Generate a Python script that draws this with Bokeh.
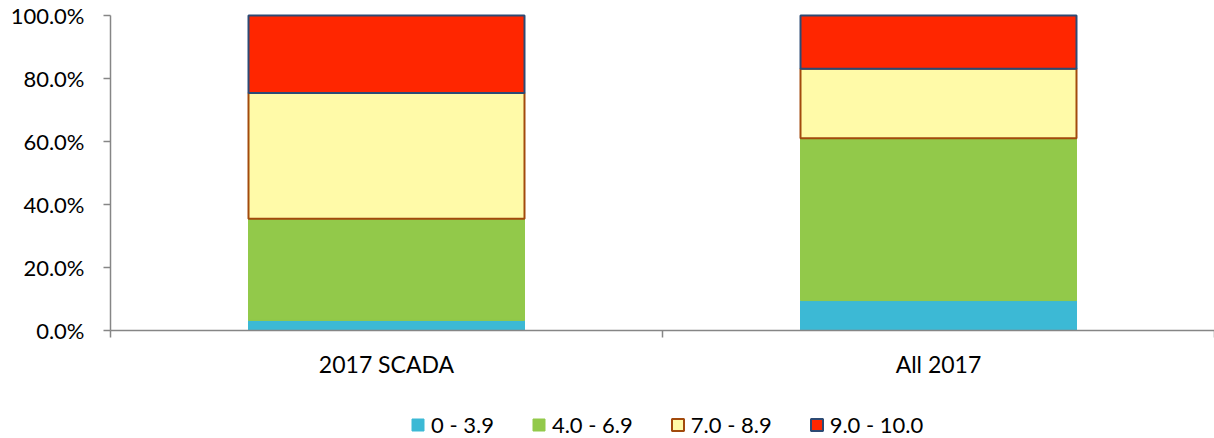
from bokeh.plotting import figure
from bokeh.layouts import column
from bokeh.models import (Range1d, FixedTicker, NumeralTickFormatter, Legend,
                          LegendItem, ColumnDataSource)
from bokeh.embed import file_html
from bokeh.resources import INLINE

# Share of samples per score band for each group
categories = ["2017 SCADA", "All 2017"]
bands = ["0 - 3.9", "4.0 - 6.9", "7.0 - 8.9", "9.0 - 10.0"]
band_0_39 = [0.032, 0.095]
band_40_69 = [0.323, 0.515]
band_70_89 = [0.399, 0.221]
band_90_100 = [0.246, 0.169]
y_ticks = [0.0, 0.2, 0.4, 0.6, 0.8, 1.0]

fills = ["#3cb9d5", "#92c94a", "#fffaa8", "#ff2600"]
outlines = [None, None, "#a24a0c", "#2c4a74"]

FONT = "Lato"
AXIS_GREY = "#868686"

# ---- main chart -------------------------------------------------------
p = figure(width=1214, height=380, output_backend="svg", toolbar_location=None,
           x_range=Range1d(0, 2), y_range=Range1d(0, 1.006),
           min_border_left=110, min_border_right=0, min_border_top=13,
           min_border_bottom=48)
p.outline_line_color = None
p.grid.grid_line_color = None
p.background_fill_color = None

xpos = [i + 0.5 for i in range(len(categories))]
series = [band_0_39, band_40_69, band_70_89, band_90_100]
bottom = [0.0] * len(categories)
sources = []
for vals, fc, lc in zip(series, fills, outlines):
    top = [b + v for b, v in zip(bottom, vals)]
    src = ColumnDataSource(dict(x=xpos, bottom=bottom, top=top))
    sources.append(src)
    p.vbar(x="x", bottom="bottom", top="top", width=0.5, source=src,
           fill_color=fc, line_color=lc if lc else fc,
           line_width=2 if lc else 1)
    bottom = top

# y axis
ya = p.yaxis[0]
ya.ticker = FixedTicker(ticks=y_ticks)
ya.formatter = NumeralTickFormatter(format="0.0%")
ya.bounds = (0, 1)
ya.axis_line_color = AXIS_GREY
ya.axis_line_width = 1.5
ya.major_tick_line_color = AXIS_GREY
ya.major_tick_line_width = 1.5
ya.major_tick_in = 0
ya.major_tick_out = 7
ya.minor_tick_line_color = None
ya.major_label_standoff = 19
ya.major_label_text_font = FONT
ya.major_label_text_font_size = "22px"
ya.major_label_text_color = "#000000"

# x axis: labels at category centres, tick marks at category boundaries
xa = p.xaxis[0]
xa.ticker = FixedTicker(ticks=xpos, minor_ticks=list(range(len(categories) + 1)))
xa.major_label_overrides = {x: c for x, c in zip(xpos, categories)}
xa.axis_line_color = AXIS_GREY
xa.axis_line_width = 1.5
xa.major_tick_line_color = None
xa.minor_tick_line_color = AXIS_GREY
xa.minor_tick_line_width = 1.5
xa.minor_tick_in = 0
xa.minor_tick_out = 7
xa.major_tick_out = 7
xa.major_label_standoff = 12
xa.major_label_text_font = FONT
xa.major_label_text_font_size = "23px"
xa.major_label_text_color = "#000000"

# ---- legend strip -----------------------------------------------------
leg = figure(width=1214, height=58, output_backend="svg", toolbar_location=None,
             x_range=Range1d(0, 1), y_range=Range1d(0, 1),
             min_border_left=0, min_border_right=0, min_border_top=0,
             min_border_bottom=0)
leg.axis.visible = False
leg.grid.grid_line_color = None
leg.outline_line_color = None
leg.background_fill_color = None

# hidden copies of the bar series, used only for the legend swatches
swatches = []
for src, fc, lc in zip(sources, fills, outlines):
    swatches.append(leg.vbar(x="x", bottom="bottom", top="top", width=0.5,
                             source=src, fill_color=fc,
                             line_color=lc if lc else fc,
                             line_width=2 if lc else 1, visible=False))

legend = Legend(items=[LegendItem(label=b, renderers=[r]) for b, r in zip(bands, swatches)],
                orientation="horizontal", location=(300, 0),
                glyph_width=15, glyph_height=15, label_standoff=6, spacing=37,
                padding=0, margin=0, border_line_color=None,
                background_fill_alpha=0, inactive_fill_alpha=0,
                label_text_font=FONT, label_text_font_size="22px",
                label_text_color="#000000")
leg.add_layout(legend, "center")

page = column(p, leg, spacing=0)
open("out.html", "w").write(file_html(page, INLINE))
